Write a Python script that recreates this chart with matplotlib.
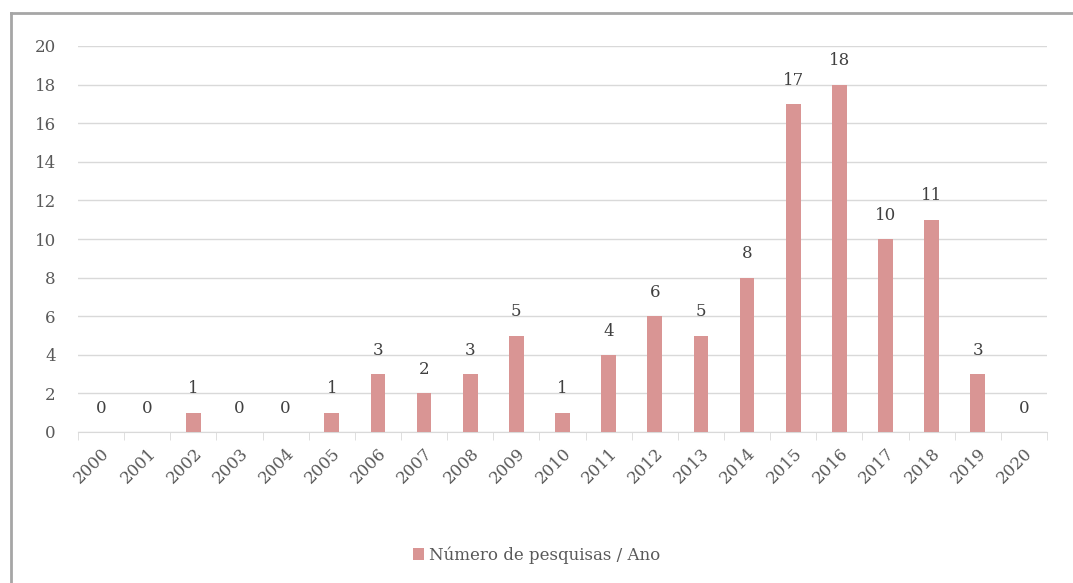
import matplotlib.pyplot as plt
from matplotlib.lines import Line2D

# data
anos = [str(a) for a in range(2000, 2021)]
pesquisas = [0, 0, 1, 0, 0, 1, 3, 2, 3, 5, 1, 4, 6, 5, 8, 17, 18, 10, 11, 3, 0]
yticks = list(range(0, 21, 2))

cor_barra = '#D99594'
cor_texto = '#595959'
plt.rcParams['font.family'] = ['DejaVu Serif']

fig = plt.figure(figsize=(10.73, 5.83), dpi=100)
ax = fig.add_axes([78 / 1073, 1 - 432 / 583, (1047 - 78) / 1073, (432 - 46) / 583])

x = list(range(len(anos)))
barras = ax.bar(x, pesquisas, width=0.32, color=cor_barra, zorder=3,
                label='Número de pesquisas / Ano')
for xi, v in zip(x, pesquisas):
    ax.annotate(str(v), (xi, v), xytext=(0, 11), textcoords='offset points',
                ha='center', va='bottom', fontsize=12, color='#404040')

ax.set_xlim(-0.5, len(anos) - 0.5)
ax.set_ylim(0, 20)
ax.set_yticks(yticks)
ax.set_yticklabels([str(t) for t in yticks], fontsize=12, color=cor_texto)
ax.set_xticks(x)
ax.set_xticklabels(anos, rotation=45, ha='right', rotation_mode='anchor',
                   fontsize=12, color=cor_texto)
ax.set_xticks([i - 0.5 for i in range(len(anos) + 1)], minor=True)
ax.tick_params(axis='x', which='major', length=0, pad=9)
ax.tick_params(axis='x', which='minor', length=6, color='#D9D9D9')
ax.tick_params(axis='y', length=0, pad=16)
ax.grid(axis='y', color='#D9D9D9', linewidth=1, zorder=0)
for s in ['top', 'right', 'left']:
    ax.spines[s].set_visible(False)
ax.spines['bottom'].set_color('#D9D9D9')

leg = fig.legend(handles=[barras], loc='center', bbox_to_anchor=(0.5, 1 - 555 / 583),
                 frameon=False, fontsize=12, handlelength=0.7, handleheight=0.7,
                 handletextpad=0.3)
for t in leg.get_texts():
    t.set_color(cor_texto)

# moldura do gráfico (só topo e esquerda aparecem)
fig.add_artist(Line2D([11 / 1073, 11 / 1073], [0, 1 - 13 / 583], transform=fig.transFigure,
                      color='#A6A6A6', linewidth=2))
fig.add_artist(Line2D([11 / 1073, 1], [1 - 13 / 583, 1 - 13 / 583], transform=fig.transFigure,
                      color='#A6A6A6', linewidth=2))

fig.savefig('out.png', dpi=100)
